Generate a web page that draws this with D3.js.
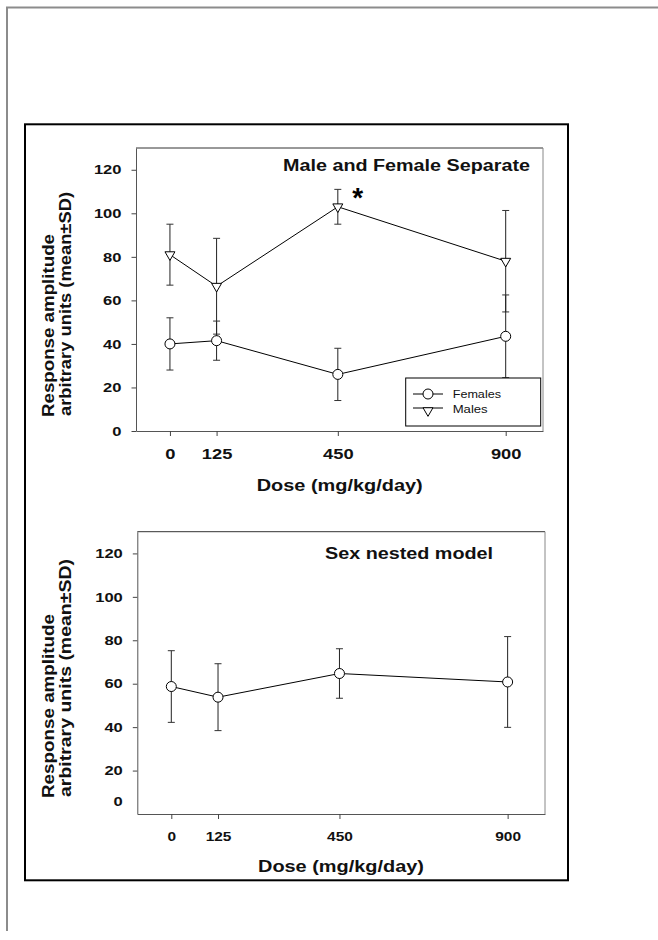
<!DOCTYPE html>
<html><head><meta charset="utf-8">
<script src="https://cdn.jsdelivr.net/npm/d3@7"></script>
<style>
body{margin:0;background:#fff}
text{font-family:"Liberation Sans",Arial,Helvetica,sans-serif}
</style>
</head><body>
<svg id="c" width="658" height="940"></svg>
<script>
// ---- data ----
const doses = [0, 125, 450, 900];
const xTickLabels = ["0", "125", "450", "900"];
const yTicks = [0, 20, 40, 60, 80, 100, 120];
const femaleMean = [40, 41.5, 26, 43.5];
const femaleSD = [12, 9, 12, 19];
const maleMean = [81, 66.5, 103, 78];
const maleSD = [14, 22, 8, 23.3];
const nestedMean = [58.7, 53.8, 64.7, 60.8];
const nestedSD = [16.5, 15.4, 11.4, 20.9];
const legendLabels = ["Females", "Males"];
const titles = ["Male and Female Separate", "Sex nested model"];
const yLabelLines = ["Response amplitude", "arbitrary units (mean\u00b1SD)"];
const xLabel = "Dose (mg/kg/day)";
const sigMark = "*";

const svg = d3.select("#c");

// outer page frame
svg.append("path").attr("d", "M7,931V7.5H658").attr("fill", "none")
  .attr("stroke", "#8c8c8c").attr("stroke-width", 2);
// black figure frame
svg.append("rect").attr("x", 25).attr("y", 124.3).attr("width", 543).attr("height", 756)
  .attr("fill", "none").attr("stroke", "#000").attr("stroke-width", 2);

const triangle = d3.symbol().type(d3.symbolTriangle).size(43)();
const circle = d3.symbol().type(d3.symbolCircle).size(Math.PI * 25)();

function stretch(sel, w) {
  sel.attr("textLength", w).attr("lengthAdjust", "spacingAndGlyphs");
}

function drawPanel(o) {
  const g = svg.append("g");
  const x = d3.scaleLinear().domain([-91, 1000]).range([o.x0, o.x1]);
  const y = d3.scaleLinear().domain([0, 130]).range([o.yb, o.yt]);

  // top & right frame
  g.append("line").attr("x1", o.x0).attr("x2", o.x1).attr("y1", o.yt).attr("y2", o.yt)
    .attr("stroke", "#333").attr("stroke-width", 1);
  g.append("line").attr("x1", o.x1).attr("x2", o.x1).attr("y1", o.yt).attr("y2", o.yb)
    .attr("stroke", "#888").attr("stroke-width", 1);

  // y axis
  const ya = g.append("g").attr("transform", `translate(${o.x0},0)`)
    .call(d3.axisLeft(y).tickValues(yTicks).tickSize(4.5).tickSizeOuter(0).tickPadding(10));
  ya.select(".domain").attr("stroke", "#555");
  ya.selectAll(".tick line").attr("stroke", "#444");
  ya.selectAll(".tick text").attr("font-size", 13).attr("font-weight", "bold").attr("fill", "#111")
    .attr("font-family", '"Liberation Sans",Arial,sans-serif')
    .each(function(d) { stretch(d3.select(this), String(d).length * 9.2); });
  if (o.zeroShift) {
    ya.selectAll(".tick").filter(d => d === 0).select("line").remove();
    ya.selectAll(".tick").filter(d => d === 0).select("text").attr("transform", `translate(0,${-o.zeroShift})`);
  }

  // x axis
  const xa = g.append("g").attr("transform", `translate(0,${o.yb})`)
    .call(d3.axisBottom(x).tickValues(doses).tickFormat((d, i) => xTickLabels[i])
      .tickSize(5).tickSizeOuter(0).tickPadding(o.xPad));
  xa.select(".domain").attr("stroke", "#555");
  xa.selectAll(".tick line").attr("stroke", "#444");
  xa.selectAll(".tick text").attr("font-size", o.xFont).attr("font-weight", "bold").attr("fill", "#111")
    .attr("font-family", '"Liberation Sans",Arial,sans-serif')
    .each(function(d, i) { stretch(d3.select(this), xTickLabels[i].length * o.xDigit); });

  // axis titles
  yLabelLines.forEach((t, i) => {
    const tx = g.append("text").attr("transform", `translate(${o.yLabX[i]},${o.yLabStart[i]}) rotate(-90)`)
      .attr("font-size", 17).attr("font-weight", "bold").attr("fill", "#111").text(t);
    stretch(tx, o.yLabW[i]);
  });
  const xl = g.append("text").attr("x", o.xLabX).attr("y", o.xLabY).attr("text-anchor", "middle")
    .attr("font-size", 17).attr("font-weight", "bold").attr("fill", "#111").text(xLabel);
  stretch(xl, 166);

  // panel title
  const tt = g.append("text").attr("x", o.titleX).attr("y", o.titleY)
    .attr("font-size", 16).attr("font-weight", "bold").attr("fill", "#111").text(o.title);
  stretch(tt, o.titleW);

  // series
  o.series.forEach(s => {
    const pts = doses.map((d, i) => ({ d, m: s.mean[i], sd: s.sd[i] }));
    g.append("path").attr("d", d3.line().x(p => x(p.d)).y(p => y(p.m))(pts))
      .attr("fill", "none").attr("stroke", "#000").attr("stroke-width", 1);
    pts.forEach(p => {
      const cx = x(p.d), hi = y(p.m + p.sd), lo = y(p.m - p.sd);
      g.append("line").attr("x1", cx).attr("x2", cx).attr("y1", hi).attr("y2", lo)
        .attr("stroke", "#222").attr("stroke-width", 1);
      [hi, lo].forEach(yy => g.append("line").attr("x1", cx - 3.5).attr("x2", cx + 3.5)
        .attr("y1", yy).attr("y2", yy).attr("stroke", "#333").attr("stroke-width", 1));
    });
    pts.forEach(p => {
      g.append("path").attr("d", s.shape === "tri" ? triangle : circle)
        .attr("transform", `translate(${x(p.d)},${y(p.m)})` + (s.shape === "tri" ? " rotate(180)" : ""))
        .attr("fill", "#fff").attr("stroke", "#000").attr("stroke-width", 1);
    });
  });
  return { g, x, y };
}

const topPanel = drawPanel({
  x0: 136, x1: 543, yt: 148, yb: 431,
  xPad: 13, xFont: 14, xDigit: 10.2,
  yLabX: [54, 71], yLabStart: [417, 416], yLabW: [183, 224],
  xLabX: 339.7, xLabY: 490.7,
  title: titles[0], titleX: 283, titleY: 170.7, titleW: 247,
  series: [
    { mean: maleMean, sd: maleSD, shape: "tri" },
    { mean: femaleMean, sd: femaleSD, shape: "circle" }
  ]
});

// significance asterisk at 450 males
topPanel.g.append("text").attr("x", topPanel.x(450) + 20).attr("y", 207).attr("text-anchor", "middle")
  .attr("font-size", 28).attr("font-weight", "bold").attr("fill", "#000").text(sigMark);

// legend
const lg = topPanel.g.append("g");
lg.append("rect").attr("x", 405.7).attr("y", 378).attr("width", 135).attr("height", 48)
  .attr("fill", "#fff").attr("stroke", "#000").attr("stroke-width", 1);
[{ shape: "circle", ly: 394, ty: 397.7, w: 48.3 }, { shape: "tri", ly: 408, ty: 412.7, w: 35 }]
  .forEach((e, i) => {
    lg.append("line").attr("x1", 413).attr("x2", 443).attr("y1", e.ly).attr("y2", e.ly)
      .attr("stroke", "#000").attr("stroke-width", 1);
    lg.append("path").attr("d", e.shape === "tri" ? triangle : circle)
      .attr("transform", `translate(428,${e.shape === "tri" ? e.ly + 2.6 : e.ly})` + (e.shape === "tri" ? " rotate(180)" : ""))
      .attr("fill", "#fff").attr("stroke", "#000").attr("stroke-width", 1);
    const t = lg.append("text").attr("x", 452.7).attr("y", e.ty).attr("font-size", 11)
      .attr("fill", "#111").text(legendLabels[i]);
    stretch(t, e.w);
  });

drawPanel({
  x0: 137.3, x1: 545, yt: 531.7, yb: 814,
  xPad: 12.5, xFont: 13, xDigit: 8.6, zeroShift: 12.5,
  yLabX: [54, 71], yLabStart: [798, 797], yLabW: [184, 238],
  xLabX: 341, xLabY: 871.5,
  title: titles[1], titleX: 325, titleY: 559.3, titleW: 168,
  series: [
    { mean: nestedMean, sd: nestedSD, shape: "circle" }
  ]
});
</script>
</body></html>
